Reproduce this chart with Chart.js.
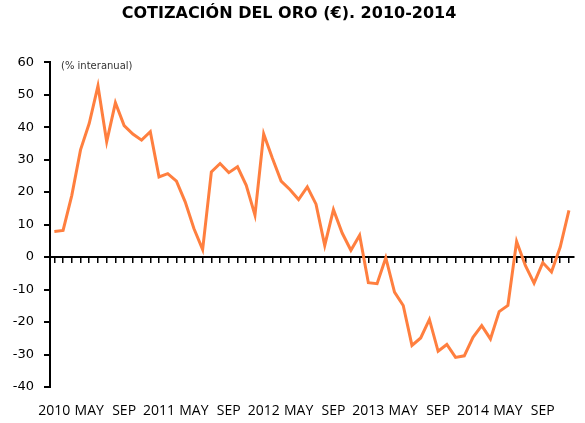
<!DOCTYPE html>
<html>
<head>
<meta charset="utf-8">
<script src="https://cdn.jsdelivr.net/npm/chart.js@4/dist/chart.umd.min.js"></script>
<style>
  html, body { margin: 0; padding: 0; background: #fff; }
  #wrap { width: 585px; height: 423px; }
</style>
</head>
<body>
<div id="wrap"><canvas id="goldChart"></canvas></div>
<script>
  // monthly data, Jan 2010 - Dec 2014
  const years = ['2010', '2011', '2012', '2013', '2014'];
  const months = ['ENE', 'FEB', 'MAR', 'ABR', 'MAY', 'JUN', 'JUL', 'AGO', 'SEP', 'OCT', 'NOV', 'DIC'];
  const goldYoY = [
    7.9, 8.2, 19, 33, 41.2, 52.7, 35.5, 47.5, 40.5, 37.9, 36, 38.6,
    24.7, 25.7, 23.4, 17, 8.8, 2.3, 26.2, 28.8, 26, 27.8, 22.1, 12.9,
    37.9, 30.4, 23.4, 20.8, 17.7, 21.6, 16.3, 3.6, 14.6, 7.4, 2.1, 6.7,
    -7.9, -8.2, -0.2, -10.8, -14.9, -27.2, -24.9, -19.2, -29, -26.9, -30.9, -30.4,
    -24.7, -21.1, -25.2, -16.8, -14.9, 4.8, -2.6, -8, -1.7, -4.6, 3.1, 14.4
  ];
  const yTicks = { min: -40, max: 60, step: 10 };

  // January shows the year, other months their short name
  const categories = [];
  years.forEach((y) => months.forEach((m, i) => categories.push(i === 0 ? y : m)));

  const unitNote = {
    id: 'unitNote',
    afterDraw(chart) {
      const { ctx, chartArea } = chart;
      ctx.save();
      ctx.font = '10px "DejaVu Sans"';
      ctx.fillStyle = '#333';
      ctx.textBaseline = 'middle';
      ctx.fillText('(% interanual)', chartArea.left + 11, chartArea.top + 4);
      ctx.restore();
    }
  };

  new Chart(document.getElementById('goldChart'), {
    type: 'line',
    data: {
      labels: categories,
      datasets: [{
        data: goldYoY,
        borderColor: '#ff7f3f',
        borderWidth: 3,
        pointRadius: 0,
        tension: 0,
        xAxisID: 'x',
        yAxisID: 'y'
      }]
    },
    options: {
      responsive: true,
      maintainAspectRatio: false,
      animation: false,
      layout: { padding: { left: 0, right: 7, top: 0, bottom: 0 } },
      plugins: {
        legend: { display: false },
        tooltip: { enabled: false },
        title: {
          display: true,
          text: 'COTIZACIÓN DEL ORO (€). 2010-2014',
          color: '#000',
          font: { family: '"DejaVu Sans"', size: 16, weight: 'bold' },
          padding: { top: 4, bottom: 39 }
        }
      },
      scales: {
        x: {
          type: 'category',
          position: 'bottom',
          offset: true,
          grid: { display: false, drawTicks: false },
          border: { display: false },
          ticks: {
            autoSkip: false,
            maxRotation: 0,
            padding: 16,
            color: '#000',
            font: { family: '"Open Sans"', size: 14 },
            callback: (v, i) => (i % 4 === 0 ? categories[i] : '')
          },
          afterFit: (s) => { s.height = 36; }
        },
        x2: {
          type: 'category',
          position: { y: 0 },
          offset: true,
          grid: { drawOnChartArea: false, drawTicks: true, tickLength: 5, color: '#000', lineWidth: 1.5 },
          border: { display: true, color: '#000', width: 2 },
          ticks: { display: false, autoSkip: false },
          afterFit: (s) => { s.height = 0; }
        },
        y: {
          min: yTicks.min,
          max: yTicks.max,
          grid: { drawOnChartArea: false, drawTicks: true, tickLength: 6, color: '#000', lineWidth: 2 },
          border: { display: true, color: '#000', width: 2 },
          ticks: {
            stepSize: yTicks.step,
            padding: 10,
            color: '#000',
            font: { family: '"DejaVu Sans"', size: 13 }
          },
          afterFit: (s) => { s.width = 50; }
        }
      }
    },
    plugins: [unitNote]
  });
</script>
</body>
</html>
